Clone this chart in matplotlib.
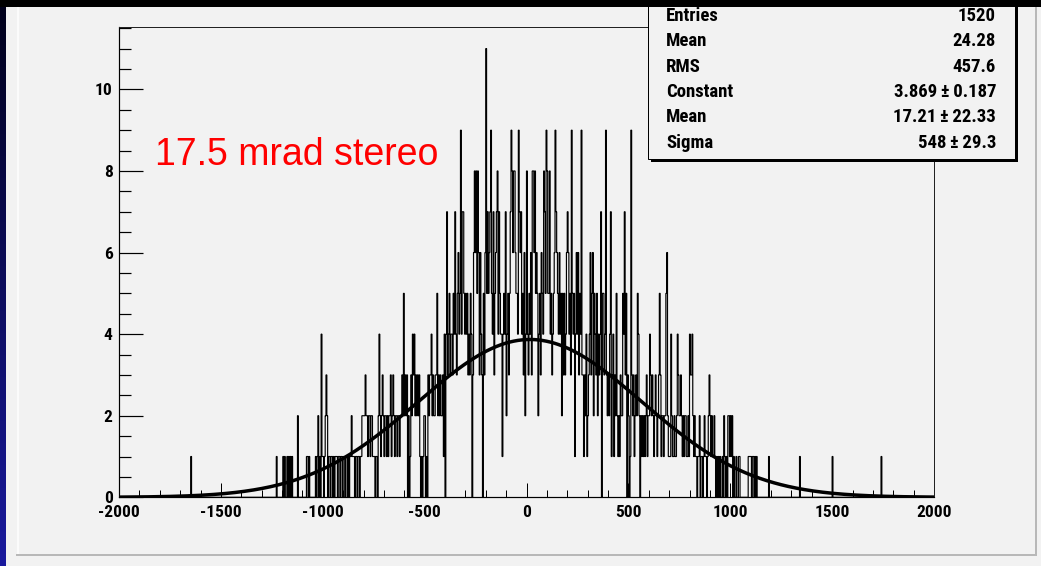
import numpy as np
import matplotlib
matplotlib.use("Agg")
import matplotlib.pyplot as plt
from matplotlib.patches import Rectangle
from matplotlib.lines import Line2D
from matplotlib.ticker import MultipleLocator
from matplotlib import font_manager

W, H = 1041, 566

# ---- data -------------------------------------------------------------
X_MIN, X_MAX = -2000, 2000
BIN_WIDTH = 4
# Bin contents, one string per 100-unit slice (25 bins each);
# digits are counts, 'a' = 10, 'b' = 11. Spaces are only for readability.
COUNT_CHUNKS = [
    "00000 00000 00000 00000 00000",  # -2000
    "00000 00000 00000 00000 00000",  # -1900
    "00000 00000 00000 00000 00000",  # -1800
    "00000 00000 00010 00000 00000",  # -1700
    "00000 00000 00000 00000 00000",  # -1600
    "00000 00000 00000 00000 00000",  # -1500
    "00000 00000 00000 00000 00000",  # -1400
    "00000 00000 00000 00010 00000",  # -1300
    "01010 01010 10100 00002 00000",  # -1200
    "00000 11010 00000 01012 01041",  # -1100
    "10123 20110 11010 11101 10110",  # -1000
    "11011 01011 21110 11011 01122",  # -900
    "22322 12212 21110 11024 21232",  # -800
    "12212 12231 23212 21221 22325",  # -700
    "23230 20132 43423 23231 01012",  # -600
    "20103 23342 32233 52323 22314",  # -500
    "04734 53443 54743 56459 47754",  # -400
    "54534 35403 68685 86364 30536",  # -300
    "b5756 79547 35678 47544 14547",  # -200
    "24535 79868 86554 97674 53624",  # -100
    "84354 63886 85652 45365 48759",  # 0
    "85584 53456 97654 64525 35346",  # 100
    "76453 95451 46463 54933 13241",  # 200
    "23463 56254 35243 47055 34932",  # 300
    "32471 34132 52121 32254 73503",  # 400
    "20193 23123 25420 21212 12312",  # 500
    "24323 21232 12353 12212 25621",  # 600
    "11421 12112 43223 21212 21121",  # 700
    "43342 12110 11201 10121 10123",  # 800
    "21211 21010 10100 10210 10221",  # 900
    "21201 00100 11000 00000 00111",  # 1000
    "10110 10100 00000 00000 00100",  # 1100
    "00000 00000 00000 00000 00000",  # 1200
    "00000 00000 10000 00000 00000",  # 1300
    "00000 00000 00000 00000 00000",  # 1400
    "10000 00000 00000 00000 00000",  # 1500
    "00000 00000 00000 00000 00000",  # 1600
    "00000 00000 10000 00000 00000",  # 1700
    "00000 00000 00000 00000 00000",  # 1800
    "00000 00000 00000 00000 00000",  # 1900
]

FIT_CONST = 3.869
FIT_MEAN = 17.21
FIT_SIGMA = 548.0

STAT_NAMES = ["Entries", "Mean", "RMS", "Constant", "Mean", "Sigma"]
STAT_VALUES = ["1520", "24.28", "457.6", "3.869\u2009\u00b1\u20090.187",
               "17.21\u2009\u00b1\u200922.33", "548\u2009\u00b1\u200929.3"]

X_TICKS = [-2000, -1500, -1000, -500, 0, 500, 1000, 1500, 2000]
X_TICK_LABELS = ["-2000", "-1500", "-1000", "-500", "0", "500", "1000", "1500", "2000"]
Y_TICKS = [0, 2, 4, 6, 8, 10]
Y_TICK_LABELS = ["0", "2", "4", "6", "8", "10"]
LABEL = "17.5 mrad stereo"

# ---- decode bin contents ---------------------------------------------
digits = "0123456789ab"
counts = []
for chunk in COUNT_CHUNKS:
    s = chunk.replace(" ", "")
    if len(s) != 25:
        raise ValueError("bad chunk: %r" % chunk)
    counts.extend(digits.index(c) for c in s)
counts = np.array(counts, dtype=float)
edges = np.arange(X_MIN, X_MAX + BIN_WIDTH, BIN_WIDTH)

# ---- fonts -----------------------------------------------------------
installed = {f.name for f in font_manager.fontManager.ttflist}
narrow_candidates = ["Liberation Sans Narrow", "Roboto Condensed", "DejaVu Sans Condensed"]
narrow = [n for n in narrow_candidates if n in installed]
if narrow:
    bold_narrow = [narrow[0], "DejaVu Sans"]
    TICK_SIZE, STAT_SIZE = 12.5, 13.5
else:
    bold_narrow = ["Liberation Sans", "DejaVu Sans"]
    TICK_SIZE, STAT_SIZE = 11.0, 12.3

# ---- figure ----------------------------------------------------------
BG = "#f2f2f2"
plt.rcParams["axes.unicode_minus"] = False

fig = plt.figure(figsize=(W / 100, H / 100), dpi=100)
fig.patch.set_facecolor(BG)


def fx(x):
    return x / W


def fy(y):
    return 1 - y / H


px_lw = 72 / 100  # one pixel in points

ax = fig.add_axes([fx(119), fy(497.3), (934 - 119) / W, (497.3 - 27) / H])
ax.set_facecolor(BG)
ax.set_xlim(X_MIN, X_MAX)
ax.set_ylim(0, 11.53)

ax.stairs(counts, edges, color="black", linewidth=0.85, baseline=0, zorder=2)

xf = np.linspace(X_MIN, X_MAX, 800)
yf = FIT_CONST * np.exp(-0.5 * ((xf - FIT_MEAN) / FIT_SIGMA) ** 2)
ax.plot(xf, yf, color="black", linewidth=2.5, zorder=3, solid_capstyle="butt")

for side in ["left", "bottom"]:
    ax.spines[side].set_linewidth(1.2 * px_lw)
    ax.spines[side].set_color("black")
for side in ["top", "right"]:
    ax.spines[side].set_linewidth(1.0 * px_lw)
    ax.spines[side].set_color("#222222")

ax.set_xticks(X_TICKS)
ax.set_xticklabels(X_TICK_LABELS)
ax.xaxis.set_minor_locator(MultipleLocator(100))
ax.set_yticks(Y_TICKS)
ax.set_yticklabels(Y_TICK_LABELS)
ax.yaxis.set_minor_locator(MultipleLocator(0.5))

ax.tick_params(axis="x", which="major", direction="in", length=10, width=px_lw,
               top=False, pad=5.5, labelsize=TICK_SIZE)
ax.tick_params(axis="x", which="minor", direction="in", length=5, width=px_lw, top=False)
ax.tick_params(axis="y", which="major", direction="in", length=17.3, width=1.2 * px_lw,
               right=False, pad=4.5, labelsize=TICK_SIZE)
ax.tick_params(axis="y", which="minor", direction="in", length=8.6, width=1.2 * px_lw,
               right=False)
for lab in ax.get_xticklabels() + ax.get_yticklabels():
    lab.set_family(bold_narrow)
    lab.set_fontweight("bold")

# label inside the frame
fig.text(fx(155), fy(165), LABEL, color="#ff0000", fontsize=27,
         family=["Liberation Sans", "DejaVu Sans"], ha="left", va="baseline", zorder=6)

# statistics box with drop shadow
fig.patches.append(Rectangle((fx(651), fy(162)), (1018 - 651) / W, (162 + 20) / H,
                             transform=fig.transFigure, facecolor="black",
                             edgecolor="none", zorder=5))
fig.patches.append(Rectangle((fx(648), fy(159)), (1015 - 648) / W, (159 + 20) / H,
                             transform=fig.transFigure, facecolor=BG,
                             edgecolor="black", linewidth=px_lw, zorder=5.1))
baselines = [21, 46.5, 71.8, 97.2, 122.5, 147.8]
for name, val, yb in zip(STAT_NAMES, STAT_VALUES, baselines):
    fig.text(fx(666), fy(yb), name, fontsize=STAT_SIZE, fontweight="bold",
             family=bold_narrow, ha="left", va="baseline", zorder=6)
    fig.text(fx(996), fy(yb), val, fontsize=STAT_SIZE, fontweight="bold",
             family=bold_narrow, ha="right", va="baseline", zorder=6)

# canvas bevel
fig.lines.append(Line2D([fx(17.5), fx(17.5)], [fy(7), fy(554)], transform=fig.transFigure,
                        color="white", linewidth=1.5 * px_lw, zorder=4))
fig.lines.append(Line2D([fx(17), fx(1036)], [fy(554.5), fy(554.5)], transform=fig.transFigure,
                        color="#b8b8b8", linewidth=2 * px_lw, zorder=4))
fig.lines.append(Line2D([fx(1035.5), fx(1035.5)], [fy(7), fy(555)], transform=fig.transFigure,
                        color="#b8b8b8", linewidth=2 * px_lw, zorder=4))

# black strip along the top edge
fig.patches.append(Rectangle((0, fy(7)), 1, 7 / H, transform=fig.transFigure,
                             facecolor="black", edgecolor="none", zorder=10))

# blue gradient strip along the left edge
side = fig.add_axes([0, 0, 6 / W, 1], zorder=10)
grad = np.linspace(0, 1, 256)[:, None]
top_c = np.array([0.0, 0.0, 0.10])
bot_c = np.array([0.10, 0.10, 0.62])
img = top_c[None, None, :] * (1 - grad[..., None]) + bot_c[None, None, :] * grad[..., None]
side.imshow(img, aspect="auto", extent=[0, 1, 0, 1], origin="upper")
side.set_axis_off()

fig.savefig("out.png", dpi=100, facecolor=fig.get_facecolor())
